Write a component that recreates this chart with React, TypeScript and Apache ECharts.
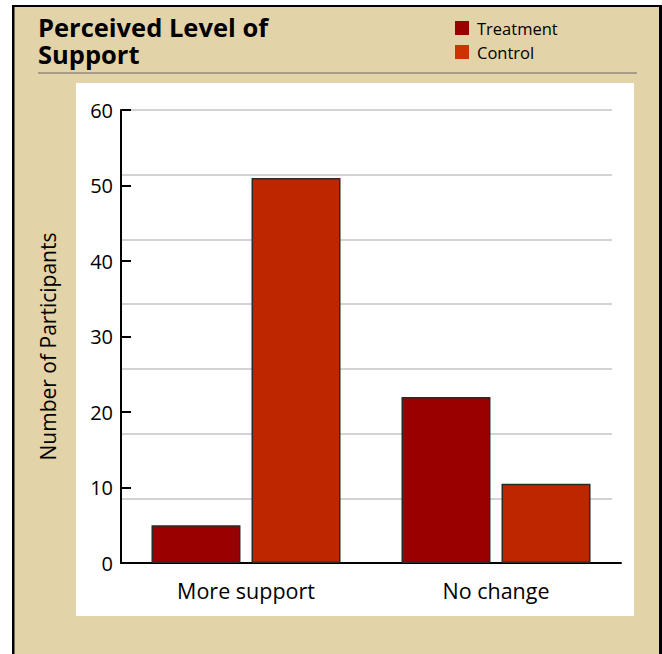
import React, { useEffect, useRef } from "react";
import * as echarts from "echarts";

// Perceived Level of Support — participants per response, by group
const categories = ["More support", "No change"];
const treatmentValues = [5, 22];
const controlValues = [51, 10.5];
const seriesNames = ["Treatment", "Control"];
const titleLines = ["Perceived Level of", "Support"];

const FONT = "'Open Sans', 'Noto Sans', sans-serif";
const TREATMENT_COLOR = "#990000";
const CONTROL_COLOR = "#BE2600";
const CONTROL_KEY_COLOR = "#CC3300";
const PANEL = "#E3D3A8";

export default function App() {
  const ref = useRef<HTMLDivElement>(null);

  useEffect(() => {
    if (!ref.current) return;
    const chart = echarts.init(ref.current, null, { renderer: "svg" });

    const barBorder = { borderColor: "#2a2a2a", borderWidth: 1.5 };
    const titleStyle = { fontFamily: FONT, fontSize: 25.5, fontWeight: "bold", color: "#000", lineHeight: 26 };

    chart.setOption({
      animation: false,
      backgroundColor: "#ffffff",
      textStyle: { fontFamily: FONT, color: "#000" },
      graphic: [
        // beige panel with a black frame on top, left and right
        { type: "rect", z: -10, shape: { x: 14, y: 7, width: 645, height: 647 }, style: { fill: PANEL } },
        { type: "rect", z: -10, shape: { x: 12, y: 5, width: 2.5, height: 649 }, style: { fill: "#000" } },
        { type: "rect", z: -10, shape: { x: 12, y: 5, width: 650, height: 2 }, style: { fill: "#000" } },
        { type: "rect", z: -10, shape: { x: 659, y: 5, width: 3, height: 649 }, style: { fill: "#000" } },
        // rule under the title
        { type: "line", z: -9, shape: { x1: 38, y1: 73, x2: 637, y2: 73 }, style: { stroke: "#948b78", lineWidth: 1.5 } },
        // white plotting panel
        { type: "rect", z: -9, shape: { x: 76, y: 83, width: 558, height: 533 }, style: { fill: "#ffffff" } },
      ],
      title: [
        { text: titleLines[0], left: 38, top: 14, padding: 0, textStyle: titleStyle },
        { text: titleLines[1], left: 38, top: 41, padding: 0, textStyle: titleStyle },
      ],
      legend: {
        orient: "vertical",
        left: 455,
        top: 19,
        padding: 0,
        itemWidth: 14,
        itemHeight: 14,
        itemGap: 6,
        icon: "rect",
        data: [
          { name: seriesNames[0], itemStyle: { color: TREATMENT_COLOR, borderWidth: 0 } },
          { name: seriesNames[1], itemStyle: { color: CONTROL_KEY_COLOR, borderWidth: 0 } },
        ],
        textStyle: { fontFamily: FONT, fontSize: 16.5, color: "#000", lineHeight: 18, padding: [0, 0, 0, 3] },
      },
      grid: [
        { left: 121, right: 41, top: 110, bottom: 91 },
        // reference lines panel (slightly narrower than the axes)
        { left: 121, right: 50, top: 110, bottom: 91 },
      ],
      xAxis: [
        {
          type: "category",
          gridIndex: 0,
          data: categories,
          axisLine: { lineStyle: { color: "#000", width: 2 } },
          axisTick: { inside: true, length: 11, lineStyle: { color: "#000", width: 2 } },
          axisLabel: { fontFamily: FONT, fontSize: 21.5, color: "#000", margin: 16 },
          splitLine: { show: false },
        },
        { type: "value", gridIndex: 1, show: false, min: 0, max: 1 },
      ],
      yAxis: [
        {
          type: "value",
          gridIndex: 0,
          min: 0,
          max: 60,
          interval: 10,
          name: "Number of Participants",
          nameLocation: "middle",
          nameRotate: 90,
          nameGap: 63,
          nameTextStyle: { fontFamily: FONT, fontSize: 21, color: "#000", padding: [0, 20, 0, 0] },
          axisLine: { show: true, lineStyle: { color: "#000", width: 2 } },
          axisTick: { show: true, inside: true, length: 10, lineStyle: { color: "#000", width: 2 } },
          axisLabel: { fontFamily: FONT, fontSize: 20, color: "#000", margin: 8 },
          splitLine: { show: false },
        },
        {
          type: "value",
          gridIndex: 1,
          min: 0,
          max: 7,
          interval: 1,
          axisLine: { show: false },
          axisTick: { show: false },
          axisLabel: { show: false },
          splitLine: { show: true, lineStyle: { color: "#c4c4c4", width: 1.5 } },
        },
      ],
      series: [
        {
          name: seriesNames[0],
          type: "bar",
          xAxisIndex: 0,
          yAxisIndex: 0,
          data: treatmentValues,
          barWidth: 89,
          barGap: "12.4%",
          itemStyle: { color: TREATMENT_COLOR, ...barBorder },
        },
        {
          name: seriesNames[1],
          type: "bar",
          xAxisIndex: 0,
          yAxisIndex: 0,
          data: controlValues,
          barWidth: 89,
          barGap: "12.4%",
          itemStyle: { color: CONTROL_COLOR, ...barBorder },
        },
      ],
    });

    return () => chart.dispose();
  }, []);

  return (
    <div
      ref={ref}
      style={{ position: "fixed", left: 0, top: 0, width: 662, height: 654 }}
    />
  );
}
